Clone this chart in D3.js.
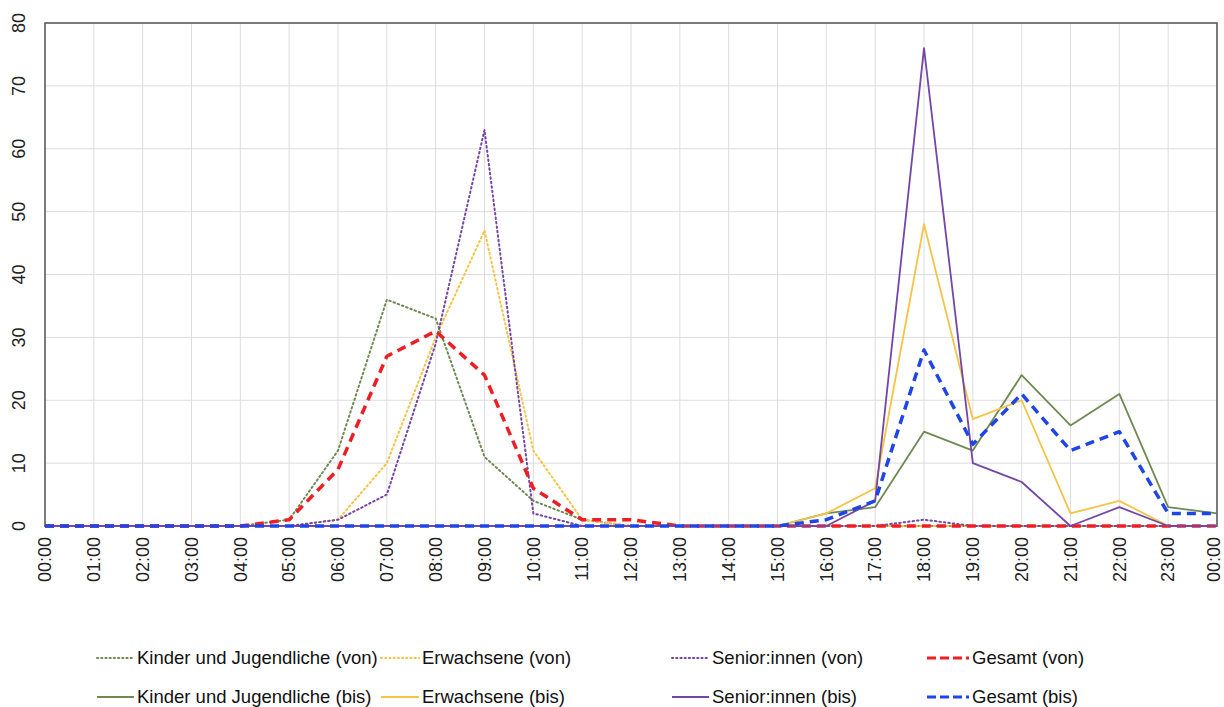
<!DOCTYPE html>
<html>
<head>
<meta charset="utf-8">
<script src="https://cdn.jsdelivr.net/npm/d3@7"></script>
<style>
  html, body { margin: 0; padding: 0; background: #fff; }
  svg { display: block; font-family: "Liberation Sans", Arial, Helvetica, sans-serif; }
</style>
</head>
<body>
<svg id="chart" width="1224" height="707"></svg>
<script>
const hours = ["00:00","01:00","02:00","03:00","04:00","05:00","06:00","07:00","08:00","09:00","10:00","11:00",
               "12:00","13:00","14:00","15:00","16:00","17:00","18:00","19:00","20:00","21:00","22:00","23:00","00:00"];
const yTicks = [0, 10, 20, 30, 40, 50, 60, 70, 80];

const kinderVon  = [0,0,0,0,0,1,12,36,33,11,4,1,0,0,0,0,0,0,0,0,0,0,0,0,0];
const erwVon     = [0,0,0,0,0,0,1,10,30,47,12,1,0,0,0,0,0,0,0,0,0,0,0,0,0];
const seniorVon  = [0,0,0,0,0,0,1,5,29,63,2,0,0,0,0,0,0,0,1,0,0,0,0,0,0];
const gesamtVon  = [0,0,0,0,0,1,9,27,31,24,6,1,1,0,0,0,0,0,0,0,0,0,0,0,0];
const kinderBis  = [0,0,0,0,0,0,0,0,0,0,0,0,0,0,0,0,2,3,15,12,24,16,21,3,2];
const erwBis     = [0,0,0,0,0,0,0,0,0,0,0,0,0,0,0,0,2,6,48,17,20,2,4,0,0];
const seniorBis  = [0,0,0,0,0,0,0,0,0,0,0,0,0,0,0,0,0,4,76,10,7,0,3,0,0];
const gesamtBis  = [0,0,0,0,0,0,0,0,0,0,0,0,0,0,0,0,1,4,28,13,21,12,15,2,2];

const seriesNames = ["Kinder und Jugendliche (von)","Erwachsene (von)","Senior:innen (von)","Gesamt (von)",
                     "Kinder und Jugendliche (bis)","Erwachsene (bis)","Senior:innen (bis)","Gesamt (bis)"];
const seriesValues = [kinderVon, erwVon, seniorVon, gesamtVon, kinderBis, erwBis, seniorBis, gesamtBis];

const styles = [
  {color:"#6e8a52", width:2,   dash:"1.5,3",   cap:"round"},
  {color:"#f5c445", width:2,   dash:"1.5,3",   cap:"round"},
  {color:"#7446a6", width:2,   dash:"1.5,3",   cap:"round"},
  {color:"#ee1f22", width:3.5, dash:"9,6",     cap:"butt"},
  {color:"#6e8a52", width:1.8, dash:null,      cap:"butt"},
  {color:"#f5c445", width:1.8, dash:null,      cap:"butt"},
  {color:"#7446a6", width:1.8, dash:null,      cap:"butt"},
  {color:"#1f45e6", width:3.5, dash:"9,6",     cap:"butt"}
];

const svg = d3.select("#chart");
const m = {left: 45, right: 7, top: 23, bottom: 181};
const W = 1224, H = 707;
const iw = W - m.left - m.right, ih = H - m.top - m.bottom;

const x = d3.scaleLinear().domain([0, hours.length - 1]).range([m.left, m.left + iw]);
const y = d3.scaleLinear().domain([0, 80]).range([m.top + ih, m.top]);

// grid
const g = svg.append("g");
g.selectAll("line.v").data(hours).enter().append("line")
  .attr("x1", (d,i)=>x(i)).attr("x2",(d,i)=>x(i))
  .attr("y1", y(0)).attr("y2", y(80))
  .attr("stroke", "#dddddd").attr("stroke-width", 1);
g.selectAll("line.h").data(yTicks).enter().append("line")
  .attr("x1", x(0)).attr("x2", x(hours.length-1))
  .attr("y1", d=>y(d)).attr("y2", d=>y(d))
  .attr("stroke", "#dddddd").attr("stroke-width", 1);

// frame
svg.append("rect").attr("x", x(0)).attr("y", y(80))
  .attr("width", x(hours.length-1)-x(0)).attr("height", y(0)-y(80))
  .attr("fill","none").attr("stroke","#555").attr("stroke-width",1.5);

// y labels
svg.append("g").selectAll("text").data(yTicks).enter().append("text")
  .attr("transform", d=>`translate(19,${y(d)}) rotate(-90)`)
  .attr("text-anchor","middle").attr("dy","0.35em")
  .attr("font-size", 18).attr("fill","#222")
  .text(d=>d);

// x labels
const last = hours.length - 1;
svg.append("g").selectAll("text").data(hours).enter().append("text")
  .attr("transform", (d,i)=>`translate(${x(i) - (i === last ? 3 : 0)},${y(0)+11}) rotate(-90)`)
  .attr("text-anchor","end").attr("dy","0.35em")
  .attr("font-size", 18).attr("fill","#222")
  .text(d=>d);

// lines
const line = d3.line().x((d,i)=>x(i)).y(d=>y(d));
seriesValues.forEach((vals, k) => {
  const s = styles[k];
  svg.append("path").datum(vals)
    .attr("d", line)
    .attr("fill","none")
    .attr("stroke", s.color)
    .attr("stroke-width", s.width)
    .attr("stroke-linecap", s.cap)
    .attr("stroke-linejoin","round")
    .attr("stroke-dasharray", s.dash);
});

// legend
const colX = [97, 381, 672, 927];
const sampleW = [37, 38, 37, 42];
const rowY = [658, 697];
seriesNames.forEach((name, k) => {
  const col = k % 4, row = Math.floor(k / 4);
  const s = styles[k];
  const lg = svg.append("g").attr("transform", `translate(${colX[col]},${rowY[row]})`);
  lg.append("line").attr("x1",0).attr("x2",sampleW[col]).attr("y1",0).attr("y2",0)
    .attr("stroke", s.color).attr("stroke-width", s.width === 3.5 ? 3 : s.width)
    .attr("stroke-linecap", s.cap)
    .attr("stroke-dasharray", s.dash ? (s.width === 3.5 ? "9,4" : "1.2,3") : null);
  lg.append("text").attr("x", sampleW[col] + 3).attr("dy","0.35em")
    .attr("font-size", 18.5).attr("fill","#111").text(name);
});
</script>
</body>
</html>
